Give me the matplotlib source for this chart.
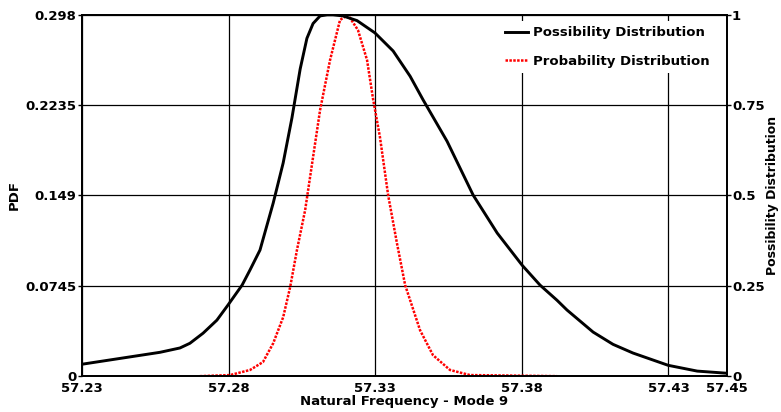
import matplotlib
matplotlib.use('Agg')
import matplotlib.pyplot as plt

# Possibility distribution (right axis, 0..1)
poss_x = [57.2300, 57.2566, 57.2634, 57.2668, 57.2713, 57.2760, 57.2798, 57.2846,
          57.2873, 57.2907, 57.2952, 57.2986, 57.3016, 57.3044, 57.3067, 57.3088,
          57.3112, 57.3136, 57.3156, 57.3190, 57.3238, 57.3299, 57.3361, 57.3419,
          57.3463, 57.3545, 57.3634, 57.3716, 57.3801, 57.3862, 57.3920, 57.3954,
          57.4043, 57.4111, 57.4179, 57.4299, 57.4398, 57.4500]
poss_y = [0.033, 0.066, 0.078, 0.091, 0.119, 0.155, 0.197, 0.252,
          0.294, 0.349, 0.479, 0.590, 0.715, 0.850, 0.935, 0.976,
          0.997, 1.000, 1.000, 0.997, 0.984, 0.950, 0.900, 0.830,
          0.765, 0.650, 0.501, 0.396, 0.307, 0.252, 0.210, 0.183,
          0.122, 0.088, 0.064, 0.030, 0.014, 0.008]

# Probability distribution (left axis, PDF)
prob_x = [57.2702, 57.2805, 57.2873, 57.2917, 57.2952, 57.2986, 57.3010, 57.3033,
          57.3061, 57.3112, 57.3146, 57.3180, 57.3207, 57.3241, 57.3272, 57.3293,
          57.3316, 57.3344, 57.3374, 57.3402, 57.3453, 57.3497, 57.3555, 57.3623,
          57.3920]
prob_y = [0.0, 0.0009, 0.0051, 0.0116, 0.0271, 0.0486, 0.0736, 0.1040,
          0.1370, 0.2196, 0.2608, 0.2938, 0.2980, 0.2855, 0.2608, 0.2280,
          0.1973, 0.1493, 0.1097, 0.0751, 0.0378, 0.0173, 0.0051, 0.0009,
          0.0]

x_ticks = [57.23, 57.28, 57.33, 57.38, 57.43, 57.45]
x_tick_labels = ['57.23', '57.28', '57.33', '57.38', '57.43', '57.45']
pdf_ticks = [0, 0.0745, 0.149, 0.2235, 0.298]
pdf_tick_labels = ['0', '0.0745', '0.149', '0.2235', '0.298']
poss_ticks = [0, 0.25, 0.5, 0.75, 1]
poss_tick_labels = ['0', '0.25', '0.5', '0.75', '1']

fig = plt.figure(figsize=(7.81, 4.12), dpi=100)
ax = fig.add_axes([0.105, 0.087, 0.826, 0.877])
ax2 = ax.twinx()

red_line, = ax.plot(prob_x, prob_y, color='red', linestyle=(0, (1, 0.55)),
                    linewidth=1.8, label='Probability Distribution')
black_line, = ax2.plot(poss_x, poss_y, color='black', linewidth=2.1,
                       label='Possibility Distribution')

ax.set_xlim(57.23, 57.45)
ax.set_ylim(0, 0.298)
ax2.set_ylim(0, 1)

tick_fs = 9.5
ax.set_xticks(x_ticks)
ax.set_xticklabels(x_tick_labels, fontsize=tick_fs, fontweight='bold')
ax.set_yticks(pdf_ticks)
ax.set_yticklabels(pdf_tick_labels, fontsize=tick_fs, fontweight='bold')
ax2.set_yticks(poss_ticks)
ax2.set_yticklabels(poss_tick_labels, fontsize=tick_fs, fontweight='bold')

ax.grid(True, color='black', linewidth=0.9)
ax.tick_params(axis='x', length=0, pad=4.5)
ax.tick_params(axis='y', length=3, width=1, pad=1)
ax2.tick_params(axis='y', length=3, width=1, pad=0.5)

for a in (ax, ax2):
    for s in a.spines.values():
        s.set_linewidth(1.3)

ax.set_xlabel('Natural Frequency - Mode 9', fontsize=9.5, fontweight='bold')
ax.xaxis.set_label_coords(0.5, -0.052)
ax.set_ylabel('PDF', fontsize=9.5, fontweight='bold')
ax.yaxis.set_label_coords(-0.095, 0.5)
ax2.set_ylabel('Possibility Distribution', fontsize=9, fontweight='bold')
ax2.yaxis.set_label_coords(1.061, 0.5)

leg = ax2.legend(handles=[black_line, red_line], loc='upper right',
                 bbox_to_anchor=(0.981, 0.983), borderaxespad=0,
                 frameon=True, fontsize=9.5, handlelength=1.75,
                 borderpad=0.4, labelspacing=1.2, handletextpad=0.38)
leg.get_frame().set_edgecolor('none')
leg.get_frame().set_facecolor('white')
leg.get_frame().set_alpha(1)
for t in leg.get_texts():
    t.set_fontweight('bold')

fig.savefig('out.png', dpi=100)
